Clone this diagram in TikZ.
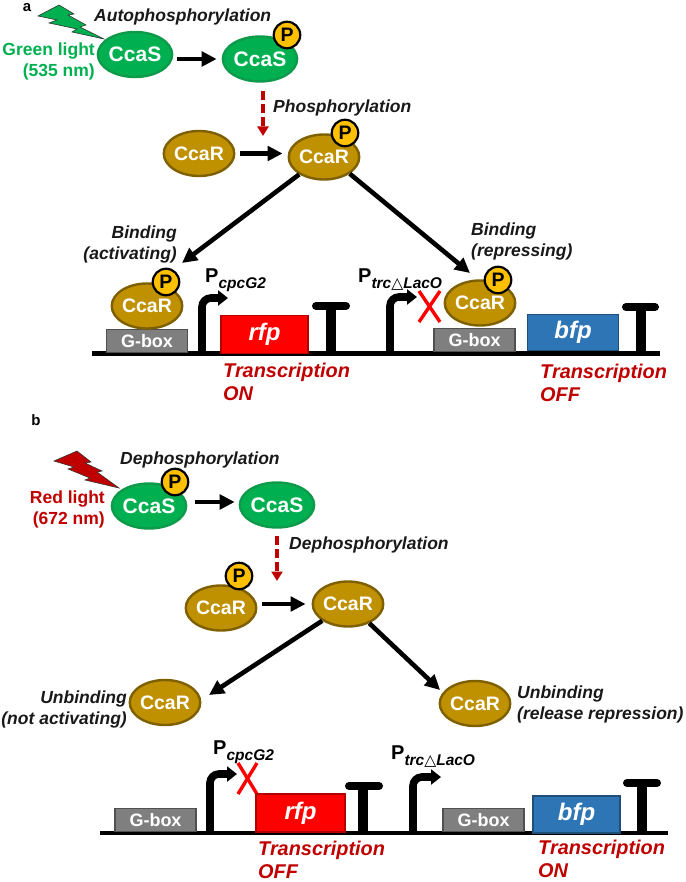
\documentclass[tikz,border=0pt]{standalone}
\usepackage{fontspec}
\setmainfont{Liberation Sans}
\newfontfamily\symfont{DejaVu Sans}
\usetikzlibrary{arrows.meta,shapes.geometric}
\definecolor{ccasgreen}{HTML}{00B050}
\definecolor{ccasedge}{HTML}{0E9A4A}
\definecolor{ccargold}{HTML}{BF9000}
\definecolor{ccaredge}{HTML}{7F6000}
\definecolor{darkred}{HTML}{C00000}
\definecolor{boxgray}{HTML}{7F7F7F}
\definecolor{boxedge}{HTML}{505050}
\definecolor{bfpblue}{HTML}{2E75B6}
\definecolor{bfpedge}{HTML}{1F4E79}
\definecolor{phosfill}{HTML}{FFC000}
\newcommand{\sizeLabel}{\fontsize{17.5}{21}\selectfont}
\begin{document}
\begin{tikzpicture}[x=1pt,y=-1pt,
        ccas/.style={ellipse,draw=ccasedge,fill=ccasgreen,line width=2.4pt,text=white,
            minimum width=70pt,minimum height=45pt,inner sep=0pt,font=\fontsize{21}{24}\selectfont\bfseries},
        ccar/.style={ellipse,draw=ccaredge,fill=ccargold,line width=2.4pt,text=white,
            minimum width=70pt,minimum height=45pt,inner sep=0pt,font=\fontsize{19.5}{23}\selectfont\bfseries},
        phos/.style={circle,draw=black,fill=phosfill,line width=2.2pt,minimum size=26.5pt,inner sep=0pt,
            font=\fontsize{19.5}{22}\selectfont},
        gbox/.style={rectangle,draw=boxedge,fill=boxgray,line width=1.6pt,text=white,minimum width=81pt,
            minimum height=23pt,inner sep=0pt,font=\fontsize{18}{21}\selectfont\bfseries},
        gene/.style={rectangle,line width=1.6pt,text=white,inner sep=0pt,font=\fontsize{24}{27}\selectfont\bfseries\itshape},
        react/.style={font=\sizeLabel\bfseries\itshape,inner sep=0pt,text=black!90},
        state/.style={font=\fontsize{19.9}{23}\selectfont\bfseries\itshape,inner sep=0pt,text=darkred,align=left},
        prom/.style={font=\fontsize{20}{24}\selectfont\bfseries,inner sep=0pt,anchor=base west},
        bigarrow/.style={line width=4.6pt,-{Triangle[length=15pt,width=14.5pt]}},
        redarrow/.style={line width=3.2pt,color=darkred,dash pattern=on 9pt off 4pt,-{Triangle[length=9.5pt,width=11pt]}},
        start/.style={line width=7.6pt,rounded corners=9pt,-{Triangle[length=10pt,width=15pt]}},
        crossout/.style={line width=3.4pt,color=red},
        dna/.style={line width=4.2pt}]
\useasboundingbox (0,0) rectangle (685,882);
%panel a
\node[font=\fontsize{15}{18}\selectfont\bfseries,inner sep=0pt] (labela) at (27,8) {a};
\fill[ccasgreen,draw=black!80,line width=0.6pt] (38,16) -- (59,5) -- (74,14) -- (68,15) -- (86,25) -- (80,27) -- (104,39)
    -- (72,32) -- (77,29) -- (49,23) -- (57,20) -- cycle;
\node[font=\sizeLabel\bfseries,text=ccasgreen,align=right,inner sep=0pt,anchor=east] (lightgreen) at (95,61.5) {Green light\\(535 nm)};
\node[ccas] (ccasA) at (135,54.5) {CcaS};
\node[ccas] (ccasB) at (260,59) {CcaS};
\node[phos] (phosA) at (287,35) {\textbf{P}};
\node[react,anchor=west] (autophos) at (94,17) {Autophosphorylation};
\draw[bigarrow,shorten <=4pt,shorten >=5pt] (ccasA.east |- ccasB) -- (ccasB);
\coordinate (dashtopA) at (263,91);
\coordinate (dashtipA) at (263,136);
\draw[redarrow] (dashtopA) -- (dashtipA);
\node[react,anchor=west] (phosphor) at (273,108) {Phosphorylation};
\node[ccar] (ccarA) at (199,153.5) {CcaR};
\node[ccar] (ccarB) at (324,157) {CcaR};
\node[phos] (phosB) at (345,133) {\textbf{P}};
\draw[bigarrow,shorten <=5pt,shorten >=5pt] (ccarA) -- (ccarB.west |- ccarA);
\coordinate (tipL) at (182,263);
\coordinate (tipR) at (470,273);
\draw[bigarrow] (ccarB.215) -- (tipL);
\draw[bigarrow] (ccarB.-33) -- (tipR);
\node[react,anchor=east,align=right] (bindL) at (177,244) {Binding\\(activating)};
\node[react,anchor=west,align=left] (bindR) at (471,241.5) {Binding\\(repressing)};
\draw[dna] (92,353.5) -- (660,353.5);
\node[gbox] (gboxA) at (147,341) {G-box};
\node[ccar] (ccarC) at (147,306) {CcaR};
\node[phos] (phosC) at (166,282) {\textbf{P}};
\draw[start] (202,353) |- (228,298);
\node[prom] (promA) at (205,282) {P\textsubscript{\fontsize{15.5}{16}\selectfont\itshape\raisebox{-3pt}{cpcG2}}};
\node[gene,fill=red,draw=red!70!black,minimum width=87pt,minimum height=38pt] (rfpA) at (264.5,334.5) {rfp};
\draw[line width=9.5pt] (331,353) -- (331,306);
\draw[line width=8pt,line cap=round] (316,306) -- (346,306);
\node[state,anchor=north west] (txA) at (223,363) {Transcription\\ON};
\draw[start] (390,353) |- (417,297);
\node[prom] (promB) at (358,282) {P\textsubscript{\fontsize{15.5}{16}\selectfont\itshape\raisebox{-3pt}{trc{\symfont △}LacO}}};
\draw[crossout] (419,291) -- (440,322);
\draw[crossout] (440,291) -- (419,322);
\node[gbox] (gboxB) at (474.5,340) {G-box};
\node[ccar] (ccarD) at (480,303) {CcaR};
\node[phos] (phosD) at (498,280) {\textbf{P}};
\node[gene,fill=bfpblue,draw=bfpedge,minimum width=91pt,minimum height=36pt] (bfpA) at (573,332.5) {bfp};
\draw[line width=9.5pt] (641,353) -- (641,307);
\draw[line width=8pt,line cap=round] (626,307) -- (655,307);
\node[state,anchor=north west] (txB) at (540,364) {Transcription\\OFF};
%panel b
\node[font=\fontsize{15}{18}\selectfont\bfseries,inner sep=0pt] (labelb) at (36,420) {b};
\fill[darkred,draw=black!80,line width=0.6pt] (54,461) -- (77,451) -- (91,462) -- (85,463) -- (102,471) -- (97,472) -- (119,488)
    -- (85,480) -- (90,478) -- (68,469) -- (74,467) -- cycle;
\node[font=\sizeLabel\bfseries,text=darkred,align=right,inner sep=0pt,anchor=east] (lightred) at (105,509.5) {Red light\\(672 nm)};
\node[ccas] (ccasC) at (149,506) {CcaS};
\node[phos] (phosE) at (175,482) {\textbf{P}};
\node[ccas] (ccasD) at (277,505) {CcaS};
\node[react,anchor=west] (dephosA) at (120,460) {Dephosphorylation};
\draw[bigarrow,shorten <=8pt,shorten >=4pt] (ccasC.east |- 0,502) -- (ccasD.west |- 0,502);
\coordinate (dashtopB) at (277,536);
\coordinate (dashtipB) at (277,581);
\draw[redarrow] (dashtopB) -- (dashtipB);
\node[react,anchor=west] (dephosB) at (289,545) {Dephosphorylation};
\node[ccar] (ccarE) at (221,608) {CcaR};
\node[phos] (phosF) at (239,576) {\textbf{P}};
\node[ccar] (ccarF) at (348,604) {CcaR};
\draw[bigarrow,shorten <=5pt,shorten >=6pt] (ccarE.east |- ccarF) -- (ccarF);
\node[ccar] (ccarG) at (165,702.5) {CcaR};
\node[ccar] (ccarH) at (475,703.5) {CcaR};
\coordinate (tipG) at (209,695);
\coordinate (tipH) at (440,690);
\draw[bigarrow] (ccarF.213) -- (tipG);
\draw[bigarrow] (ccarF.-42) -- (tipH);
\node[react,anchor=east,align=right] (unbindL) at (127,709.5) {Unbinding\\(not activating)};
\node[react,anchor=west,align=left] (unbindR) at (517,704.5) {Unbinding\\(release repression)};
\draw[dna] (100,833) -- (668,833);
\node[gbox] (gboxC) at (155.5,820) {G-box};
\draw[start] (210,832) |- (237,774);
\node[prom] (promC) at (213,754) {P\textsubscript{\fontsize{15.5}{16}\selectfont\itshape\raisebox{-3pt}{cpcG2}}};
\draw[crossout] (238,763) -- (257,794);
\draw[crossout] (257,763) -- (238,794);
\node[gene,fill=red,draw=red!70!black,minimum width=89pt,minimum height=38pt] (rfpB) at (300.5,813) {rfp};
\draw[line width=9.5pt] (363,832) -- (363,786);
\draw[line width=8pt,line cap=round] (349,786) -- (379,786);
\node[state,anchor=north west] (txC) at (258,841) {Transcription\\OFF};
\draw[start] (413,832) |- (441,777);
\node[prom] (promD) at (391,759) {P\textsubscript{\fontsize{15.5}{16}\selectfont\itshape\raisebox{-3pt}{trc{\symfont △}LacO}}};
\node[gbox] (gboxD) at (483.5,820) {G-box};
\node[gene,fill=bfpblue,draw=bfpedge,minimum width=87pt,minimum height=37pt] (bfpB) at (576.5,814.5) {bfp};
\draw[line width=9.5pt] (642,832) -- (642,783);
\draw[line width=8pt,line cap=round] (627,783) -- (657,783);
\node[state,anchor=north west] (txD) at (538,840) {Transcription\\ON};
\end{tikzpicture}
\end{document}
